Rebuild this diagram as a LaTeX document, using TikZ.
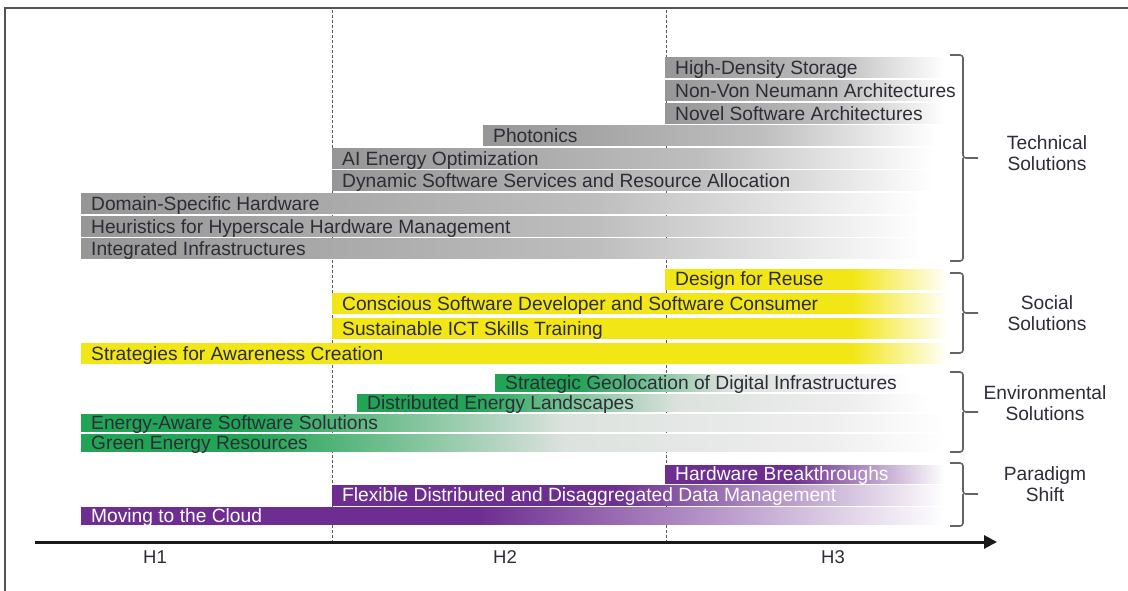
\documentclass[tikz,border=0pt]{standalone}
\usepackage{fontspec}
\setmainfont{Liberation Sans}
\usetikzlibrary{arrows.meta}

\definecolor{bargray}{RGB}{150,150,150}
\definecolor{bargraymid}{RGB}{190,190,190}
\definecolor{baryellow}{RGB}{243,230,22}
\definecolor{bargreen}{RGB}{34,164,86}
\definecolor{bargreenfade}{RGB}{220,226,222}
\definecolor{barfadegray}{RGB}{238,238,238}
\definecolor{barpurple}{RGB}{110,46,145}
\definecolor{labeltext}{RGB}{45,45,55}
\definecolor{framegray}{RGB}{85,85,85}
\definecolor{bracegray}{RGB}{100,100,100}

% horizontal fades; the inner 25bp--75bp span covers the bar
\pgfdeclarehorizontalshading{grayfade}{100bp}{color(0bp)=(bargray); color(25bp)=(bargray); color(55bp)=(bargraymid); color(74bp)=(white); color(100bp)=(white)}
\pgfdeclarehorizontalshading{purplefade}{100bp}{color(0bp)=(barpurple); color(25bp)=(barpurple); color(48bp)=(barpurple); color(75bp)=(white); color(100bp)=(white)}
\pgfdeclarehorizontalshading{greenfade}{100bp}{color(0bp)=(bargreen); color(25bp)=(bargreen); color(35bp)=(bargreen); color(53bp)=(bargreenfade); color(68bp)=(barfadegray); color(75bp)=(white); color(100bp)=(white)}

\tikzset{
  bartext/.style={anchor=base west, inner sep=0pt, text=labeltext,
    font=\fontsize{19.2}{21}\selectfont},
  whitetext/.style={text=white},
  grouplabel/.style={align=center, inner sep=0pt, text=labeltext,
    font=\fontsize{19.2}{21}\selectfont},
  horizon/.style={anchor=base, inner sep=0pt, text=labeltext,
    font=\fontsize{18.5}{21}\selectfont},
  gridline/.style={draw=black!65, line width=0.8pt, dash pattern=on 3pt off 2pt},
  bracket/.style={draw=bracegray, line width=1.6pt, rounded corners=3pt},
}

% #1 node name, #2 shading, #3 start x, #4 end x, #5 centre y, #6 height, #7 extra text style, #8 label
\newcommand\roadbar[8]{%
  \shade[shading=#2] (#3,#5-#6/2) rectangle (#4,#5+#6/2);
  \node[bartext,#7] (#1) at (#3+10,#5+6.9) {#8};
}
% yellow bars stay solid up to x = 852 and fade out to x = 948
% #1 node name, #2 start x, #3 centre y, #4 label
\newcommand\yellowbar[4]{%
  \pgfmathsetmacro\yellowstop{25+50*((852-#2)/(948-#2))}%
  \pgfdeclarehorizontalshading{yellowfade#1}{100bp}{color(0bp)=(baryellow); color(25bp)=(baryellow); color(\yellowstop bp)=(baryellow); color(75bp)=(white); color(100bp)=(white)}%
  \shade[shading=yellowfade#1] (#2,#3-10) rectangle (948,#3+10);
  \node[bartext] (#1) at (#2+10,#3+6.9) {#4};
}
% #1 top, #2 middle, #3 bottom
\newcommand\groupbrace[3]{%
  \draw[bracket] (950,#1) -- (963,#1) -- (963,#2) -- (978,#2);
  \draw[bracket] (963,#2) -- (963,#3) -- (950,#3);
}

\begin{document}
\begin{tikzpicture}[x=1pt,y=-1pt]
\useasboundingbox (0,0) rectangle (1128,591);
\fill[white] (0,0) rectangle (1128,591);

% frame
\draw[framegray, line width=2pt] (1128,8) -- (5,8) -- (5,591);

% horizon separators
\draw[gridline] (332,10) -- (332,542);
\draw[gridline] (666,10) -- (666,542);

% technical solutions
\roadbar{hds}{grayfade}{665}{950}{68}{20}{}{High-Density Storage}
\roadbar{nvn}{grayfade}{665}{952}{90.6}{20}{}{Non-Von Neumann Architectures}
\roadbar{nsa}{grayfade}{665}{950}{113.2}{20}{}{Novel Software Architectures}
\roadbar{pho}{grayfade}{483}{945}{135.8}{20}{}{Photonics}
\roadbar{aie}{grayfade}{332}{945}{158.4}{20}{}{AI Energy Optimization}
\roadbar{dss}{grayfade}{332}{945}{181}{20}{}{Dynamic Software Services and Resource Allocation}
\roadbar{dsh}{grayfade}{81}{940}{203.6}{20}{}{Domain-Specific Hardware}
\roadbar{hhm}{grayfade}{81}{940}{226.2}{20}{}{Heuristics for Hyperscale Hardware Management}
\roadbar{iin}{grayfade}{81}{940}{248.8}{20}{}{Integrated Infrastructures}

% social solutions
\yellowbar{dfr}{665}{279}{Design for Reuse}
\yellowbar{csd}{332}{303.5}{Conscious Software Developer and Software Consumer}
\yellowbar{sit}{332}{328.5}{Sustainable ICT Skills Training}
\yellowbar{sac}{81}{353.5}{Strategies for Awareness Creation}

% environmental solutions
\roadbar{sgd}{greenfade}{495}{910}{383}{17}{}{Strategic Geolocation of Digital Infrastructures}
\roadbar{del}{greenfade}{357}{930}{403}{17}{}{Distributed Energy Landscapes}
\roadbar{eas}{greenfade}{81}{945}{423}{17}{}{Energy-Aware Software Solutions}
\roadbar{ger}{greenfade}{81}{945}{443}{17}{}{Green Energy Resources}

% paradigm shift
\roadbar{hwb}{purplefade}{665}{945}{474}{18}{whitetext}{Hardware Breakthroughs}
\roadbar{fdd}{purplefade}{332}{945}{495}{20}{whitetext}{Flexible Distributed and Disaggregated Data Management}
\roadbar{mtc}{purplefade}{81}{945}{515.5}{17}{whitetext}{Moving to the Cloud}

% group braces and labels
\groupbrace{55}{158}{261}
\groupbrace{273}{313}{353}
\groupbrace{372}{412}{452}
\groupbrace{463}{494}{526}
\node[grouplabel] (techlbl) at (1047,153.5) {Technical\\Solutions};
\node[grouplabel] (sociallbl) at (1047,313.5) {Social\\Solutions};
\node[grouplabel] (envlbl) at (1045,403.5) {Environmental\\Solutions};
\node[grouplabel] (paralbl) at (1045,484.5) {Paradigm\\Shift};

% time axis
\coordinate (axisstart) at (35,542);
\coordinate (axisend) at (997,542);
\draw[black!90, line width=3pt, -{Triangle[length=13pt,width=13pt]}] (axisstart) -- (axisend);
\node[horizon] (h1) at (155,563) {H1};
\node[horizon] (h2) at (505,563) {H2};
\node[horizon] (h3) at (833,563) {H3};
\end{tikzpicture}
\end{document}
